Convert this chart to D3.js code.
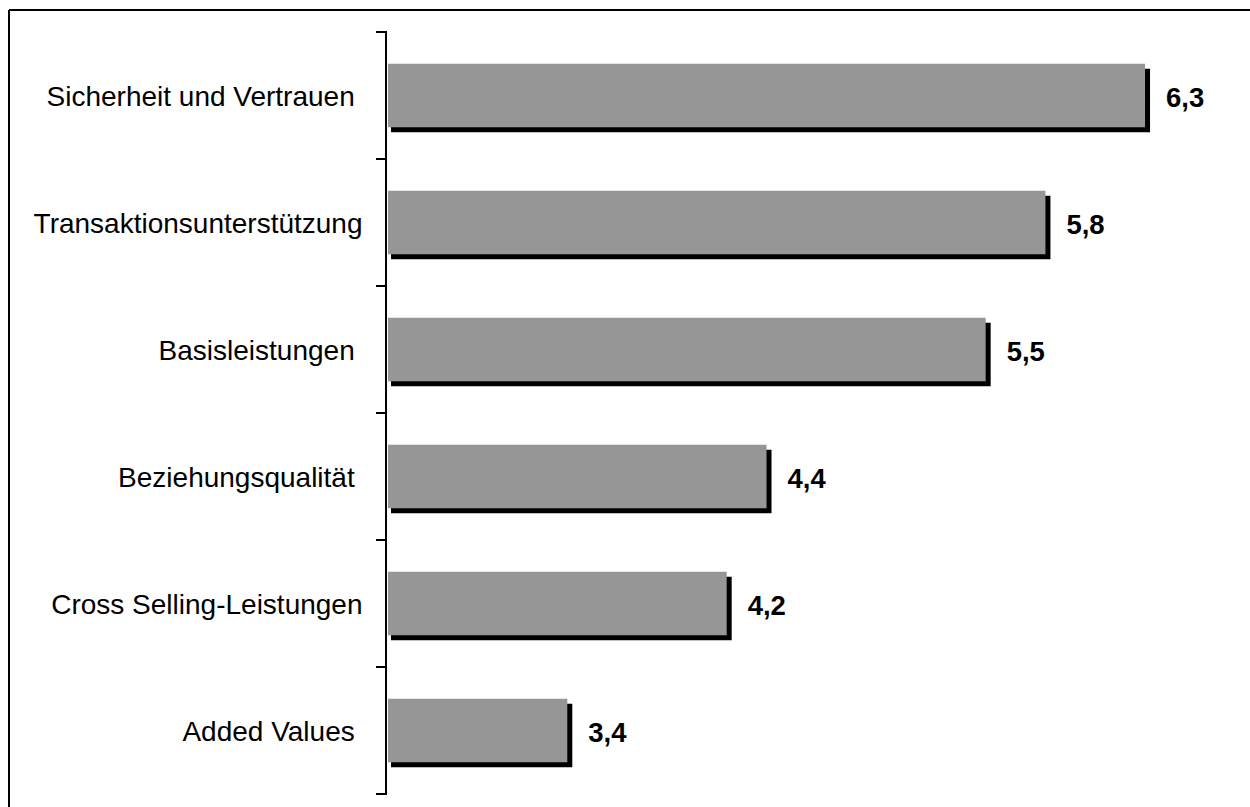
<!DOCTYPE html>
<html>
<head>
<meta charset="utf-8">
<script src="https://cdn.jsdelivr.net/npm/d3@7"></script>
<style>
  html, body { margin: 0; padding: 0; background: #fff; }
  svg { display: block; }
  text { font-family: "Liberation Sans", Arial, sans-serif; white-space: pre; }
</style>
</head>
<body>
<svg id="chart" width="1250" height="807"></svg>
<script>
// Data
const categories = [
  "Sicherheit und Vertrauen ",
  "Transaktionsunterstützung",
  "Basisleistungen ",
  "Beziehungsqualität ",
  "Cross Selling-Leistungen",
  "Added Values "
];
const values = [6.3, 5.8, 5.5, 4.4, 4.2, 3.4];
const valueLabels = ["6,3", "5,8", "5,5", "4,4", "4,2", "3,4"];

const svg = d3.select("#chart");

// Frame (top and left edges visible)
svg.append("line").attr("x1", 9).attr("x2", 1250).attr("y1", 10).attr("y2", 10)
  .attr("stroke", "#000").attr("stroke-width", 2);
svg.append("line").attr("x1", 9).attr("x2", 9).attr("y1", 10).attr("y2", 807)
  .attr("stroke", "#000").attr("stroke-width", 2);

const axisX = 386;
const y = d3.scaleBand()
  .domain(categories)
  .range([32, 794])
  .paddingInner(0.5)
  .paddingOuter(0.25);

const x = d3.scaleLinear()
  .domain([2.5, 7])
  .range([388, 1284.5]);

const data = categories.map((c, i) => ({ c, v: values[i], lab: valueLabels[i] }));

const shadow = 5;

// Shadows
svg.append("g").selectAll("rect").data(data).join("rect")
  .attr("x", d => x.range()[0] + 3)
  .attr("y", d => y(d.c) + shadow)
  .attr("width", d => x(d.v) - x.range()[0] + shadow - 3)
  .attr("height", y.bandwidth())
  .attr("fill", "#000");

// Bars
svg.append("g").selectAll("rect").data(data).join("rect")
  .attr("x", x.range()[0])
  .attr("y", d => y(d.c))
  .attr("width", d => x(d.v) - x.range()[0])
  .attr("height", y.bandwidth())
  .attr("fill", "#969696");

// Axis line and ticks at band boundaries
svg.append("line").attr("x1", axisX).attr("x2", axisX)
  .attr("y1", y.range()[0]).attr("y2", y.range()[1])
  .attr("stroke", "#000").attr("stroke-width", 2);
const tickYs = d3.range(categories.length + 1).map(i =>
  y.range()[0] + i * (y.range()[1] - y.range()[0]) / categories.length);
svg.append("g").selectAll("line").data(tickYs).join("line")
  .attr("x1", axisX - 10).attr("x2", axisX + 1)
  .attr("y1", d => d).attr("y2", d => d)
  .attr("stroke", "#000").attr("stroke-width", 2);

// Category labels
svg.append("g").selectAll("text").data(data).join("text")
  .attr("x", 362.5)
  .attr("y", d => y(d.c) + y.bandwidth() / 2)
  .attr("dy", "0.36em")
  .attr("text-anchor", "end")
  .attr("font-size", "28px")
  .attr("fill", "#000")
  .text(d => d.c);

// Value labels
svg.append("g").selectAll("text").data(data).join("text")
  .attr("x", d => x(d.v) + 21)
  .attr("y", d => y(d.c) + y.bandwidth() / 2 + 2)
  .attr("dy", "0.36em")
  .attr("font-size", "27.5px")
  .attr("font-weight", "bold")
  .attr("fill", "#000")
  .text(d => d.lab);
</script>
</body>
</html>
